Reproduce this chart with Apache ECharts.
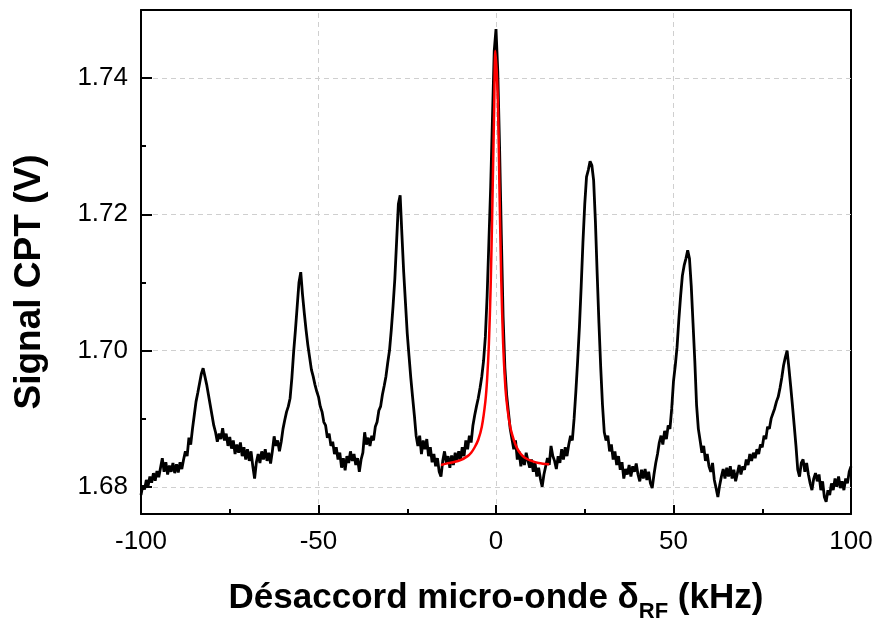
<!DOCTYPE html>
<html>
<head>
<meta charset="utf-8">
<script src="https://cdn.jsdelivr.net/npm/echarts@6/dist/echarts.min.js"></script>
<style>
html,body{margin:0;padding:0;background:#fff;}
#chart{width:879px;height:622px;}
</style>
</head>
<body>
<div id="chart"></div>
<script>
// Measured CPT signal, sampled every 0.5 kHz from -100 kHz
const detuningStart = -100;
const detuningStep = 0.5;
const signal = [
  1.6788,1.6802,1.6796,1.6810,1.6801,1.6815,1.6806,1.6820,1.6809,1.6823,
  1.6814,1.6828,1.6842,1.6822,1.6836,1.6818,1.6831,1.6822,1.6835,1.6820,
  1.6833,1.6821,1.6836,1.6826,1.6840,1.6852,1.6845,1.6872,1.6862,1.6885,
  1.6905,1.6925,1.6938,1.6952,1.6966,1.6974,1.6962,1.6950,1.6935,1.6920,
  1.6905,1.6890,1.6880,1.6866,1.6878,1.6870,1.6886,1.6868,1.6878,1.6860,
  1.6873,1.6856,1.6868,1.6848,1.6862,1.6850,1.6865,1.6845,1.6858,1.6840,
  1.6855,1.6838,1.6852,1.6830,1.6812,1.6836,1.6848,1.6835,1.6852,1.6840,
  1.6855,1.6838,1.6850,1.6834,1.6852,1.6874,1.6860,1.6868,1.6852,1.6866,
  1.6885,1.6898,1.6910,1.6918,1.6930,1.6960,1.6998,1.7030,1.7065,1.7100,
  1.7115,1.7082,1.7055,1.7030,1.7008,1.6990,1.6972,1.6962,1.6950,1.6940,
  1.6932,1.6918,1.6910,1.6895,1.6890,1.6872,1.6878,1.6860,1.6866,1.6848,
  1.6858,1.6840,1.6850,1.6828,1.6842,1.6824,1.6845,1.6835,1.6852,1.6838,
  1.6848,1.6832,1.6842,1.6822,1.6840,1.6850,1.6880,1.6862,1.6872,1.6860,
  1.6875,1.6868,1.6888,1.6895,1.6912,1.6918,1.6935,1.6948,1.6962,1.6982,
  1.7000,1.7030,1.7065,1.7105,1.7160,1.7215,1.7228,1.7170,1.7115,1.7070,
  1.7025,1.6992,1.6960,1.6932,1.6905,1.6875,1.6860,1.6875,1.6848,1.6868,
  1.6855,1.6870,1.6845,1.6858,1.6836,1.6848,1.6830,1.6842,1.6822,1.6815,
  1.6838,1.6852,1.6835,1.6845,1.6828,1.6846,1.6832,1.6850,1.6838,1.6852,
  1.6840,1.6858,1.6845,1.6868,1.6855,1.6875,1.6865,1.6890,1.6905,1.6918,
  1.6930,1.6945,1.6962,1.6985,1.7020,1.7080,1.7160,1.7240,1.7340,1.7440,
  1.7472,1.7410,1.7300,1.7170,1.7050,1.6975,1.6935,1.6910,1.6885,1.6870,
  1.6855,1.6868,1.6840,1.6852,1.6830,1.6845,1.6832,1.6850,1.6838,1.6828,
  1.6840,1.6822,1.6835,1.6815,1.6828,1.6812,1.6800,1.6818,1.6830,1.6842,
  1.6832,1.6860,1.6845,1.6838,1.6826,1.6845,1.6835,1.6855,1.6840,1.6858,
  1.6845,1.6862,1.6875,1.6868,1.6900,1.6940,1.6985,1.7035,1.7095,1.7160,
  1.7215,1.7255,1.7265,1.7278,1.7272,1.7250,1.7190,1.7113,1.7040,1.6975,
  1.6920,1.6880,1.6868,1.6875,1.6852,1.6862,1.6840,1.6852,1.6832,1.6845,
  1.6825,1.6836,1.6812,1.6826,1.6818,1.6832,1.6815,1.6830,1.6822,1.6834,
  1.6818,1.6808,1.6825,1.6812,1.6826,1.6810,1.6822,1.6805,1.6798,1.6818,
  1.6835,1.6848,1.6865,1.6875,1.6862,1.6882,1.6870,1.6890,1.6885,1.6915,
  1.6955,1.6978,1.7005,1.7045,1.7080,1.7110,1.7125,1.7135,1.7147,1.7135,
  1.7095,1.7040,1.6985,1.6920,1.6885,1.6868,1.6850,1.6860,1.6838,1.6848,
  1.6830,1.6822,1.6835,1.6810,1.6798,1.6785,1.6802,1.6815,1.6826,1.6812,
  1.6828,1.6815,1.6830,1.6812,1.6825,1.6808,1.6820,1.6832,1.6818,1.6830,
  1.6825,1.6840,1.6832,1.6848,1.6838,1.6850,1.6842,1.6855,1.6848,1.6862,
  1.6858,1.6875,1.6870,1.6888,1.6885,1.6900,1.6898,1.6915,1.6925,1.6932,
  1.6945,1.6960,1.6978,1.6990,1.7000,1.6975,1.6948,1.6920,1.6890,1.6860,
  1.6825,1.6815,1.6835,1.6840,1.6822,1.6835,1.6818,1.6805,1.6795,1.6812,
  1.6820,1.6808,1.6818,1.6795,1.6808,1.6785,1.6778,1.6795,1.6788,1.6805,
  1.6795,1.6812,1.6800,1.6815,1.6798,1.6808,1.6795,1.6812,1.6805,1.6822,
  1.6830
];

// Lorentzian fit of the central resonance (red)
const fitDetuning = [-15.5,-14,-12,-10,-8,-7,-6,-5,-4,-3,-2.5,-2,-1.5,-1,-0.5,-0.2,0.5,1,1.5,2,2.5,3,4,5,6,7,8,10,12,15];
const fitSignal   = [1.6832,1.6834,1.6836,1.6839,1.6845,1.6850,1.6858,1.6869,1.6888,1.6925,1.6958,1.7010,1.7095,1.7220,1.7360,1.7440,1.7370,1.7230,1.7100,1.7012,1.6958,1.6925,1.6888,1.6869,1.6856,1.6848,1.6843,1.6838,1.6835,1.6833];

const xTicks = [-100, -50, 0, 50, 100];
const xInnerTicks = [-50, 0, 50];
const yMajorTicks = [1.68, 1.70, 1.72, 1.74];
const yMinorTicks = [1.69, 1.71, 1.73];

const measured = signal.map((v, i) => [detuningStart + i * detuningStep, v]);
const fit = fitDetuning.map((x, i) => [x, fitSignal[i]]);

const FONT = '"Liberation Sans", Arial, sans-serif';
const XMIN = xTicks[0], XMAX = xTicks[xTicks.length - 1];
const YMIN = 1.676, YMAX = 1.750;
const PLOT_W = 879 - 141 - 28, PLOT_H = 622 - 10 - 108;
const xPerPx = (XMAX - XMIN) / PLOT_W;
const yPerPx = (YMAX - YMIN) / PLOT_H;
const Y_TICK_PX = 11, X_TICK_PX = 9;

const chart = echarts.init(document.getElementById('chart'), null, {renderer: 'canvas'});

const blackLine = {show: true, onZero: false, lineStyle: {color: '#000', width: 2}};
const noLine = {show: false, onZero: false};
const gridStyle = {color: '#cfcfcf', type: [5, 4], width: 1};

// dashed gridlines (start just past the inward ticks)
const gridSegments = [].concat(
  yMajorTicks.map(v => [{coord: [XMIN + (Y_TICK_PX + 1) * xPerPx, v]}, {coord: [XMAX, v]}]),
  xInnerTicks.map(v => [{coord: [v, YMIN + (X_TICK_PX + 1) * yPerPx]}, {coord: [v, YMAX]}])
);
// major inward ticks
const majorTickSegments = [].concat(
  yMajorTicks.map(v => [{coord: [XMIN, v]}, {coord: [XMIN + Y_TICK_PX * xPerPx, v]}]),
  xInnerTicks.map(v => [{coord: [v, YMIN]}, {coord: [v, YMIN + X_TICK_PX * yPerPx]}])
);

chart.setOption({
  animation: false,
  backgroundColor: '#fff',
  grid: {left: 141, right: 28, top: 10, bottom: 108, show: false, outerBoundsMode: 'none', containLabel: false},
  xAxis: [{
    type: 'value', min: XMIN, max: XMAX, interval: 50, position: 'bottom',
    axisLine: blackLine,
    axisTick: {show: true, inside: true, length: X_TICK_PX, lineStyle: {color: '#000', width: 2}},
    minorTick: {show: true, splitNumber: 2, length: 5, lineStyle: {color: '#000', width: 2}},
    splitLine: {show: false},
    axisLabel: {color: '#000', fontSize: 26, fontFamily: FONT, margin: 15},
    name: '{t|Désaccord micro-onde δ}{sub|RF}{t| (kHz)}',
    nameLocation: 'middle', nameGap: 67,
    nameTextStyle: {
      rich: {
        t: {fontSize: 35, fontWeight: 'bold', fontFamily: FONT, color: '#000', lineHeight: 42, verticalAlign: 'top'},
        sub: {fontSize: 22, fontWeight: 'bold', fontFamily: FONT, color: '#000', lineHeight: 42, verticalAlign: 'bottom', padding: [20, 0, 0, 0]}
      }
    }
  }, {
    type: 'value', min: XMIN, max: XMAX, position: 'top',
    axisLine: blackLine, axisTick: {show: false}, axisLabel: {show: false}, splitLine: {show: false}
  }],
  yAxis: [{
    type: 'value', min: YMIN, max: YMAX, splitNumber: 4, position: 'left',
    axisLine: blackLine,
    axisTick: {show: true, inside: true, length: Y_TICK_PX, lineStyle: {color: '#000', width: 2}},
    splitLine: {show: false},
    axisLabel: {color: '#000', fontSize: 26, fontFamily: FONT, margin: 13, showMinLabel: false, showMaxLabel: false,
      formatter: v => (yMajorTicks.some(t => Math.abs(t - v) < 1e-6) ? v.toFixed(2) : '')},
    name: 'Signal CPT (V)', nameLocation: 'middle', nameGap: 93,
    nameTextStyle: {fontSize: 37, fontWeight: 'bold', fontFamily: FONT, color: '#000', padding: [0, 40, 0, 0]}
  }, {
    type: 'value', min: YMIN, max: YMAX, position: 'left',
    axisLine: noLine,
    axisTick: {show: true, inside: true, length: 5, customValues: yMinorTicks, lineStyle: {color: '#000', width: 2}},
    axisLabel: {show: false},
    splitLine: {show: false}
  }, {
    type: 'value', min: YMIN, max: YMAX, position: 'right',
    axisLine: blackLine, axisTick: {show: false}, axisLabel: {show: false}, splitLine: {show: false}
  }],
  series: [
    {
      type: 'line', data: [], silent: true, z: 1,
      markLine: {
        silent: true, symbol: ['none', 'none'], label: {show: false}, z: 1,
        lineStyle: gridStyle,
        data: gridSegments
      }
    },
    {
      type: 'line', data: [], silent: true, z: 6,
      markLine: {
        silent: true, symbol: ['none', 'none'], label: {show: false}, z: 6,
        lineStyle: {color: '#000', type: 'solid', width: 2},
        data: majorTickSegments
      }
    },
    {
      type: 'line', data: measured, showSymbol: false, smooth: false,
      lineStyle: {color: '#000', width: 2.8}, z: 3
    },
    {
      type: 'line', data: fit, showSymbol: false, smooth: 0.3,
      lineStyle: {color: '#ff0000', width: 2.5}, z: 4
    }
  ]
});
</script>
</body>
</html>
